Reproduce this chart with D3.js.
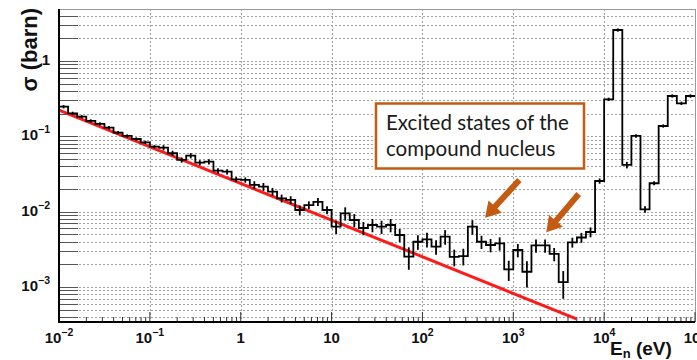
<!DOCTYPE html>
<html><head><meta charset="utf-8">
<script src="https://cdn.jsdelivr.net/npm/d3@7"></script>
<style>body{margin:0;background:#fff}svg{display:block}</style>
</head><body><svg id="c" width="697" height="360"></svg>
<script>
// ---- data ----
const xDomain = [1e-2, 1e5];
const yDomain = [3.42e-4, 4.9];
const binStartExp = -2;          // first bin edge = 10^-2
const binsPerDecade = 10;
const sigma = [
  0.247, 0.202, 0.182, 0.160, 0.146, 0.130, 0.112, 0.101, 0.092, 0.0832,
  0.0727, 0.0706, 0.0595, 0.0485, 0.0553, 0.0446, 0.0460, 0.0349, 0.0339, 0.0268,
  0.0263, 0.0226, 0.0214, 0.0184, 0.0150, 0.0143, 0.0105, 0.0122, 0.0135, 0.0105,
  0.0063, 0.00949, 0.00773, 0.00606, 0.00664, 0.0063, 0.00664, 0.00489, 0.00252, 0.00398,
  0.00429, 0.00342, 0.00465, 0.0025, 0.00257, 0.0063, 0.00398, 0.0036, 0.00379, 0.00171,
  0.00309, 0.00159, 0.00355, 0.00355, 0.00274, 0.00116, 0.00391, 0.00453, 0.00536, 0.0255,
  0.310, 2.58, 0.0416, 0.101, 0.0107, 0.0238, 0.137, 0.343, 0.274, 0.343
];
const relErr = [
  0.05, 0.05, 0.05, 0.05, 0.05, 0.05, 0.05, 0.05, 0.05, 0.05,
  0.05, 0.08, 0.08, 0.08, 0.08, 0.08, 0.08, 0.08, 0.08, 0.08,
  0.08, 0.12, 0.12, 0.12, 0.12, 0.12, 0.15, 0.12, 0.12, 0.12,
  0.2, 0.2, 0.2, 0.2, 0.2, 0.2, 0.2, 0.2, 0.33, 0.22,
  0.22, 0.22, 0.22, 0.25, 0.25, 0.22, 0.2, 0.2, 0.2, 0.3,
  0.2, 0.38, 0.2, 0.2, 0.2, 0.4, 0.15, 0.15, 0.15, 0.08,
  0.05, 0.05, 0.1, 0.05, 0.1, 0.06, 0.05, 0.05, 0.05, 0.05
];
const fitLine = [[0.01, 0.223], [4950, 3.76e-4]];
const xTickExps = [-2, -1, 0, 1, 2, 3, 4, 5];
const yTickExps = [-3, -2, -1, 0];
const annotationLines = ["Excited states of the", "compound nucleus"];
const arrows = [ // [tailE, tailSigma, tipE, tipSigma]
  [1165, 0.0263, 489, 0.0083],
  [5248, 0.0171, 2307, 0.0053]
];
const xTitle = "E", xTitleSub = "n", xTitleRest = " (eV)";
const yTitle = "σ (barn)";

// ---- layout ----
const L = 59, R = 695, T = 9, B = 322;
const svg = d3.select("#c");
const x = d3.scaleLog().domain(xDomain).range([L, R]);
const y = d3.scaleLog().domain(yDomain).range([B, T]);
const orange = "#c55a11";

// grid
const g = svg.append("g");
const yGridVals = [];
for (let e = -4; e <= 0; e++) for (let m = 1; m <= 9; m++) {
  const v = m * Math.pow(10, e);
  if (v > yDomain[0] && v < yDomain[1]) yGridVals.push(v);
}
g.selectAll(".yg").data(yGridVals).join("line")
  .attr("x1", L).attr("x2", R).attr("y1", d => Math.round(y(d)) + 0.5).attr("y2", d => Math.round(y(d)) + 0.5)
  .attr("stroke", "#a0a0a0").attr("stroke-width", 1).attr("stroke-dasharray", "2,2");
g.selectAll(".xg").data(xTickExps.slice(1, -1)).join("line")
  .attr("x1", d => Math.round(x(Math.pow(10, d))) + 0.5).attr("x2", d => Math.round(x(Math.pow(10, d))) + 0.5)
  .attr("y1", T).attr("y2", B)
  .attr("stroke", "#a0a0a0").attr("stroke-width", 1).attr("stroke-dasharray", "2,2");

// frame
svg.append("line").attr("x1", L).attr("x2", R).attr("y1", T + 0.5).attr("y2", T + 0.5).attr("stroke", "#999");
svg.append("line").attr("x1", R + 0.5).attr("x2", R + 0.5).attr("y1", T).attr("y2", B).attr("stroke", "#999");

// ticks
const xMinor = [];
for (let e = -2; e < 5; e++) for (let m = 2; m <= 9; m++) xMinor.push(m * Math.pow(10, e));
svg.selectAll(".xt").data(xTickExps).join("line")
  .attr("x1", d => x(Math.pow(10, d))).attr("x2", d => x(Math.pow(10, d)))
  .attr("y1", B).attr("y2", B - 10).attr("stroke", "#333").attr("stroke-width", 1);
svg.selectAll(".xm").data(xMinor).join("line")
  .attr("x1", d => x(d)).attr("x2", d => x(d))
  .attr("y1", B).attr("y2", B - 5).attr("stroke", "#333").attr("stroke-width", 1);
svg.selectAll(".yt").data(yGridVals).join("line")
  .attr("x1", L).attr("x2", L + 19)
  .attr("y1", d => Math.round(y(d)) + 0.5).attr("y2", d => Math.round(y(d)) + 0.5)
  .attr("stroke", "#555").attr("stroke-width", 1);

// fit line
svg.append("path").datum(fitLine)
  .attr("d", d3.line().x(d => x(d[0])).y(d => y(d[1])))
  .attr("stroke", "#ff1a1a").attr("stroke-width", 3).attr("fill", "none");

// histogram
const bins = sigma.map((v, i) => ({
  lo: Math.pow(10, binStartExp + i / binsPerDecade),
  hi: Math.pow(10, binStartExp + (i + 1) / binsPerDecade),
  v, e: relErr[i]
}));
let pd = `M${x(bins[0].lo)},${B}`;
bins.forEach(b => { pd += `L${x(b.lo)},${y(b.v)}L${x(b.hi)},${y(b.v)}`; });
svg.append("path").attr("d", pd).attr("fill", "none").attr("stroke", "#000").attr("stroke-width", 1.8);
svg.selectAll(".eb").data(bins).join("line")
  .attr("x1", b => x(Math.sqrt(b.lo * b.hi))).attr("x2", b => x(Math.sqrt(b.lo * b.hi)))
  .attr("y1", b => y(b.v * (1 - b.e))).attr("y2", b => y(b.v * (1 + b.e)))
  .attr("stroke", "#000").attr("stroke-width", 1.8);

// axes lines
svg.append("line").attr("x1", L).attr("x2", L).attr("y1", T).attr("y2", B + 1).attr("stroke", "#000").attr("stroke-width", 2);
svg.append("line").attr("x1", L - 1).attr("x2", R).attr("y1", B).attr("y2", B).attr("stroke", "#000").attr("stroke-width", 2);

// tick labels
function powLabel(sel, e) {
  if (e === 0) { sel.text("1"); return; }
  if (e === 1) { sel.text("10"); return; }
  sel.append("tspan").text("10");
  sel.append("tspan").attr("dy", -7).attr("font-size", 10.5).text(String(e).replace("-", "−"));
}
xTickExps.forEach(e => {
  const t = svg.append("text").attr("x", x(Math.pow(10, e))).attr("y", 343)
    .attr("text-anchor", "middle").attr("font-family", "Liberation Sans, Arial, sans-serif")
    .attr("font-weight", "bold").attr("font-size", 15).attr("fill", "#111");
  powLabel(t, e);
});
yTickExps.forEach(e => {
  const t = svg.append("text").attr("x", 50).attr("y", y(Math.pow(10, e)) + 4)
    .attr("text-anchor", "end").attr("font-family", "Liberation Sans, Arial, sans-serif")
    .attr("font-weight", "bold").attr("font-size", 15).attr("fill", "#111");
  powLabel(t, e);
});

// axis titles
svg.append("text").attr("transform", `translate(37,8) rotate(-90)`)
  .attr("text-anchor", "end").attr("font-family", "Liberation Sans, Arial, sans-serif")
  .attr("font-weight", "bold").attr("font-size", 22).attr("fill", "#111").text(yTitle);
const xt = svg.append("text").attr("x", 610).attr("y", 355)
  .attr("font-family", "Liberation Sans, Arial, sans-serif")
  .attr("font-weight", "bold").attr("font-size", 19).attr("fill", "#111");
xt.append("tspan").text(xTitle);
xt.append("tspan").attr("dy", 3).attr("font-size", 13).text(xTitleSub);
xt.append("tspan").attr("dy", -3).text(xTitleRest);

// annotation box
svg.append("rect").attr("x", 376).attr("y", 103.5).attr("width", 208).attr("height", 65)
  .attr("fill", "#fff").attr("stroke", orange).attr("stroke-width", 2.5);
annotationLines.forEach((s, i) => {
  svg.append("text").attr("x", 386).attr("y", 130 + i * 26)
    .attr("font-family", "Lato, 'Open Sans', sans-serif").attr("font-size", 20.5).attr("fill", "#1a1a1a").text(s);
});

// arrows
arrows.forEach(a => {
  const x0 = x(a[0]), y0 = y(a[1]), x1 = x(a[2]), y1 = y(a[3]);
  const dx = x1 - x0, dy = y1 - y0, len = Math.hypot(dx, dy);
  const ux = dx / len, uy = dy / len, px = -uy, py = ux;
  const hl = 15, sw = 3, hw = 9;
  const bx = x1 - ux * hl, by = y1 - uy * hl;
  const pts = [
    [x0 + px * sw, y0 + py * sw], [bx + px * sw, by + py * sw], [bx + px * hw, by + py * hw],
    [x1, y1], [bx - px * hw, by - py * hw], [bx - px * sw, by - py * sw], [x0 - px * sw, y0 - py * sw]
  ];
  svg.append("path").attr("d", "M" + pts.map(p => p.join(",")).join("L") + "Z").attr("fill", orange);
});
</script></body></html>
